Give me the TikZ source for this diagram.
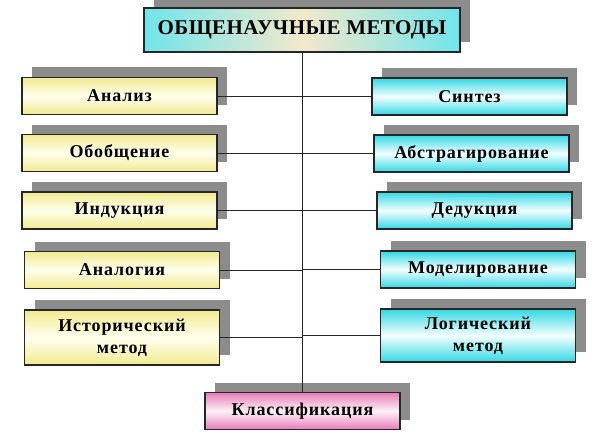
\documentclass[tikz,border=0pt]{standalone}
\usepackage{fontspec}
\setmainfont{Liberation Serif}
\newfontfamily\boxfont[LetterSpace=5]{Liberation Serif}
\newfontfamily\titlefont[LetterSpace=2]{Liberation Serif}
\usetikzlibrary{shadows}
\definecolor{shade}{HTML}{8C8C8C}
\definecolor{yel}{HTML}{F2EA90}
\definecolor{yelmid}{HTML}{FFFFEE}
\definecolor{cyn}{HTML}{33D9E3}
\definecolor{cynmid}{HTML}{F4FEFF}
\definecolor{pnk}{HTML}{E67BB8}
\definecolor{pnkmid}{HTML}{FFF2F8}
\definecolor{beige}{HTML}{F3E8CB}
\tikzset{
  box/.style={draw=black!85, line width=1.3pt, font=\boxfont\bfseries\fontsize{18}{22}\selectfont,
    minimum width=195pt, minimum height=37pt, inner sep=0pt, align=center,
    drop shadow={shadow xshift=10pt, shadow yshift=10pt, fill=shade, opacity=1}},
  lbox/.style={box, top color=yel, bottom color=yel, middle color=yelmid},
  rbox/.style={box, top color=cyn, bottom color=cyn, middle color=cynmid},
  pbox/.style={box, top color=pnk, bottom color=pnk, middle color=pnkmid},
  tbox/.style={box, left color=cyn!70, right color=cyn!70, middle color=beige,
    minimum width=316pt, minimum height=44pt, font=\titlefont\bfseries\fontsize{21}{23}\selectfont},
  link/.style={draw=black!85, line width=0.9pt}
}
\begin{document}
\begin{tikzpicture}[x=1pt,y=-1pt]
\useasboundingbox (0,0) rectangle (594,436);
\node[tbox] (title) at (302,30) {ОБЩЕНАУЧНЫЕ МЕТОДЫ};
\node[lbox] (a1) at (119.5,96) {Анализ};
\node[lbox] (a2) at (119.5,153) {Обобщение};
\node[lbox] (a3) at (119.5,210.5) {Индукция};
\node[lbox] (a4) at (122,270) {Аналогия};
\node[lbox, minimum height=55pt] (a5) at (122,337.5) {Исторический\\метод};
\node[rbox] (b1) at (469.5,96.5) {Синтез};
\node[rbox] (b2) at (471.5,153.5) {Абстрагирование};
\node[rbox] (b3) at (474.5,210.5) {Дедукция};
\node[rbox] (b4) at (478,269.5) {Моделирование};
\node[rbox, minimum height=53pt] (b5) at (478,335.5) {Логический\\метод};
\node[pbox] (k) at (302.5,411) {Классификация};
\draw[link] (title.south) -- (title.south |- k.north);
\foreach \n in {a1,a2,a3,a4,a5}{
  \draw[link] (\n.east) -- (\n.east -| title.south);
}
\foreach \n in {b1,b2,b3,b4,b5}{
  \draw[link] (\n.west) -- (\n.west -| title.south);
}
\end{tikzpicture}
\end{document}
